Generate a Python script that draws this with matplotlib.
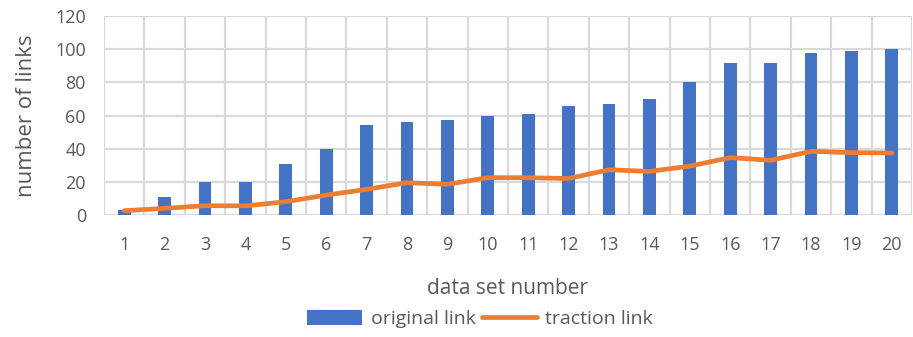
import matplotlib
matplotlib.use("Agg")
import matplotlib.pyplot as plt
import numpy as np

categories = [str(i) for i in range(1, 21)]
original_link = [3, 11, 20, 20, 31, 40, 54, 56, 57, 60, 61, 65.5, 67, 70, 80, 91.5, 91.5, 97.5, 99, 100]
traction_link = [2.6, 4, 5.6, 5.5, 8, 12, 15.5, 19.5, 18.5, 22.5, 22.5, 22, 27.3, 26.3, 29.5, 34.6, 33, 38.4, 37.6, 37.4]
y_ticks = [0, 20, 40, 60, 80, 100, 120]

plt.rcParams['font.family'] = ['Open Sans', 'DejaVu Sans']
txt = '#595959'
grid = '#d9d9d9'

fig = plt.figure(figsize=(9.13, 3.37), dpi=100)
ax = fig.add_axes([0.1139, 0.362, 0.885, 0.5905])

x = np.arange(len(categories))
bars = ax.bar(x, original_link, width=0.32, color='#4472C4', label='original link', zorder=3)
line, = ax.plot(x, traction_link, color='#ED7D31', lw=3.4, label='traction link', zorder=4,
                solid_capstyle='round', solid_joinstyle='round')

ax.set_xlim(-0.5, len(categories) - 0.5)
ax.set_ylim(0, 120)
ax.set_yticks(y_ticks)
ax.set_xticks(x)
ax.set_xticklabels(categories)
ax.grid(False)
for yv in y_ticks:
    ax.axhline(yv, color=grid, lw=1.6, zorder=1)
for xv in np.arange(-0.5, len(categories), 1.0):
    ax.axvline(xv, color=grid, lw=1.6, zorder=1)
for s in ax.spines.values():
    s.set_visible(False)
ax.tick_params(axis='both', which='both', length=0, colors=txt, labelsize=13)
ax.tick_params(axis='x', pad=15)
ax.tick_params(axis='y', pad=13)

fig.text(0.5564, 0.1454, 'data set number', fontsize=15, color=txt, ha='center', va='center')
fig.text(27 / 913, 0.656, 'number of links', fontsize=16, color=txt, ha='center', va='center',
         rotation=90)

leg = fig.legend(handles=[bars, line], labels=['original link', 'traction link'],
                 loc='center', bbox_to_anchor=(0.526, 0.053), ncol=2, frameon=False,
                 fontsize=14, handlelength=2.8, handleheight=0.8, handletextpad=0.45,
                 columnspacing=0.35, borderpad=0, borderaxespad=0)
for t in leg.get_texts():
    t.set_color(txt)

fig.savefig('out.png', dpi=100)
